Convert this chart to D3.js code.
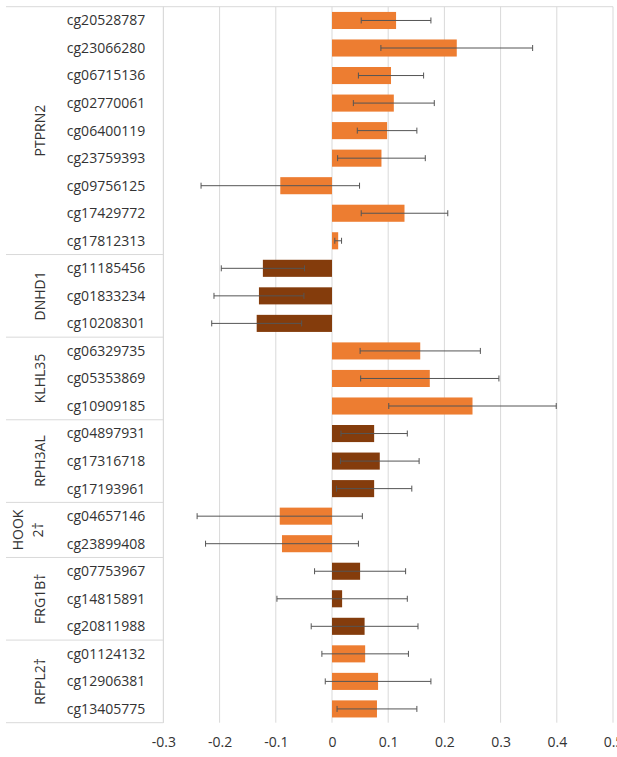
<!DOCTYPE html>
<html>
<head>
<meta charset="utf-8">
<script src="https://cdn.jsdelivr.net/npm/d3@7"></script>
<style>
  body { margin: 0; background: #fff; }
  svg text { font-family: "Open Sans", sans-serif; fill: #333; }
</style>
</head>
<body>
<div id="chart"></div>
<script>
// gene groups and how many probes each one has
var groupNames = ["PTPRN2", "DNHD1", "KLHL35", "RPH3AL", "HOOK 2†", "FRG1B†", "RFPL2†"];
var groupSizes = [9, 3, 3, 3, 2, 3, 3];

// CpG probes, top to bottom
var probes = [
    "cg20528787", "cg23066280", "cg06715136", "cg02770061", "cg06400119",
    "cg23759393", "cg09756125", "cg17429772", "cg17812313",
    "cg11185456", "cg01833234", "cg10208301",
    "cg06329735", "cg05353869", "cg10909185",
    "cg04897931", "cg17316718", "cg17193961",
    "cg04657146", "cg23899408",
    "cg07753967", "cg14815891", "cg20811988",
    "cg01124132", "cg12906381", "cg13405775"
];

// bar values and error bar half widths
var values = [
    0.114, 0.222, 0.105, 0.110, 0.098, 0.088, -0.092, 0.129, 0.011,
    -0.123, -0.130, -0.134,
    0.157, 0.174, 0.250,
    0.075, 0.085, 0.075,
    -0.093, -0.089,
    0.050, 0.018, 0.058,
    0.059, 0.082, 0.080
];
var errors = [
    0.062, 0.135, 0.058, 0.072, 0.053, 0.078, 0.141, 0.077, 0.006,
    0.074, 0.080, 0.080,
    0.107, 0.123, 0.149,
    0.059, 0.070, 0.067,
    0.147, 0.136,
    0.081, 0.116, 0.095,
    0.077, 0.094, 0.071
];

// x axis tick labels
var xTicks = [-0.3, -0.2, -0.1, 0, 0.1, 0.2, 0.3, 0.4, 0.5];

var width = 617, height = 757;
var lightColor = "#ED7D31", darkColor = "#843C0C";

// which group each probe belongs to
var groupOf = [];
groupSizes.forEach(function(n, g) {
    for (var i = 0; i < n; i++) groupOf.push(g);
});

var data = probes.map(function(p, i) {
    return { probe: p, value: values[i], err: errors[i], group: groupOf[i] };
});

var svg = d3.select("#chart").append("svg")
    .attr("width", width)
    .attr("height", height);

var x = d3.scaleLinear()
    .domain([-0.3, 0.5])
    .range([163.4, 613]);

var y = d3.scaleBand()
    .domain(d3.range(probes.length))
    .range([6.7, 722.7])
    .paddingInner(0.38)
    .paddingOuter(0.19);

var step = y.step();
var plotTop = y.range()[0];
var plotBottom = y.range()[1];

// vertical gridlines
svg.append("g").selectAll("line")
    .data(xTicks)
    .enter().append("line")
    .attr("x1", d => x(d)).attr("x2", d => x(d))
    .attr("y1", plotTop).attr("y2", plotBottom)
    .attr("stroke", "#d9d9d9")
    .attr("stroke-width", 1);

// top border across whole chart
svg.append("line")
    .attr("x1", 6).attr("x2", x(0.5))
    .attr("y1", plotTop).attr("y2", plotTop)
    .attr("stroke", "#d9d9d9");

// group separators in the label table
var bounds = [0];
groupSizes.forEach(function(n, g) { bounds.push(bounds[g] + n); });
svg.append("g").selectAll("line")
    .data(bounds.slice(1))
    .enter().append("line")
    .attr("x1", 6).attr("x2", x(-0.3))
    .attr("y1", d => plotTop + d * step).attr("y2", d => plotTop + d * step)
    .attr("stroke", "#d9d9d9");

// bars
svg.append("g").selectAll("rect")
    .data(data)
    .enter().append("rect")
    .attr("x", d => x(Math.min(0, d.value)))
    .attr("width", d => Math.abs(x(d.value) - x(0)))
    .attr("y", (d, i) => y(i))
    .attr("height", y.bandwidth())
    .attr("fill", d => d.group % 2 === 0 ? lightColor : darkColor);

// error bars
var eb = svg.append("g").selectAll("g")
    .data(data)
    .enter().append("g")
    .attr("stroke", "#555")
    .attr("stroke-width", 1);
eb.append("line")
    .attr("x1", d => x(d.value - d.err)).attr("x2", d => x(d.value + d.err))
    .attr("y1", (d, i) => y(i) + y.bandwidth() / 2)
    .attr("y2", (d, i) => y(i) + y.bandwidth() / 2);
[-1, 1].forEach(function(s) {
    eb.append("line")
        .attr("x1", d => x(d.value + s * d.err)).attr("x2", d => x(d.value + s * d.err))
        .attr("y1", (d, i) => y(i) + y.bandwidth() / 2 - 3)
        .attr("y2", (d, i) => y(i) + y.bandwidth() / 2 + 3);
});

// category axis line
svg.append("line")
    .attr("x1", x(-0.3)).attr("x2", x(-0.3))
    .attr("y1", plotTop).attr("y2", plotBottom)
    .attr("stroke", "#d9d9d9");

// probe labels
svg.append("g").selectAll("text")
    .data(data)
    .enter().append("text")
    .attr("x", 106)
    .attr("y", (d, i) => y(i) + y.bandwidth() / 2)
    .attr("dy", "0.35em")
    .attr("text-anchor", "middle")
    .style("font-size", "14px")
    .text(d => d.probe);

// group labels, rotated
groupNames.forEach(function(name, g) {
    var cy = plotTop + (bounds[g] + bounds[g + 1]) / 2 * step;
    var lines = name === "HOOK 2†" ? ["HOOK", "2†"] : [name];
    var t = svg.append("text")
        .attr("transform", "translate(" + (lines.length > 1 ? 18 : 40) + "," + cy + ") rotate(-90)")
        .attr("text-anchor", "middle")
        .style("font-size", "14px");
    lines.forEach(function(l, k) {
        t.append("tspan")
            .attr("x", 0)
            .attr("dy", k === 0 ? "0.35em" : "1.4em")
            .text(l);
    });
});

// x axis
var xAxis = d3.axisBottom(x)
    .tickValues(xTicks)
    .tickSize(0)
    .tickPadding(14)
    .tickFormat(d => String(d));
svg.append("g")
    .attr("transform", "translate(0," + plotBottom + ")")
    .call(xAxis)
    .call(g => g.select(".domain").remove())
    .call(g => g.selectAll("text")
        .style("font-family", "'Open Sans', sans-serif")
        .style("font-size", "14px")
        .attr("fill", "#333"));
</script>
</body>
</html>
